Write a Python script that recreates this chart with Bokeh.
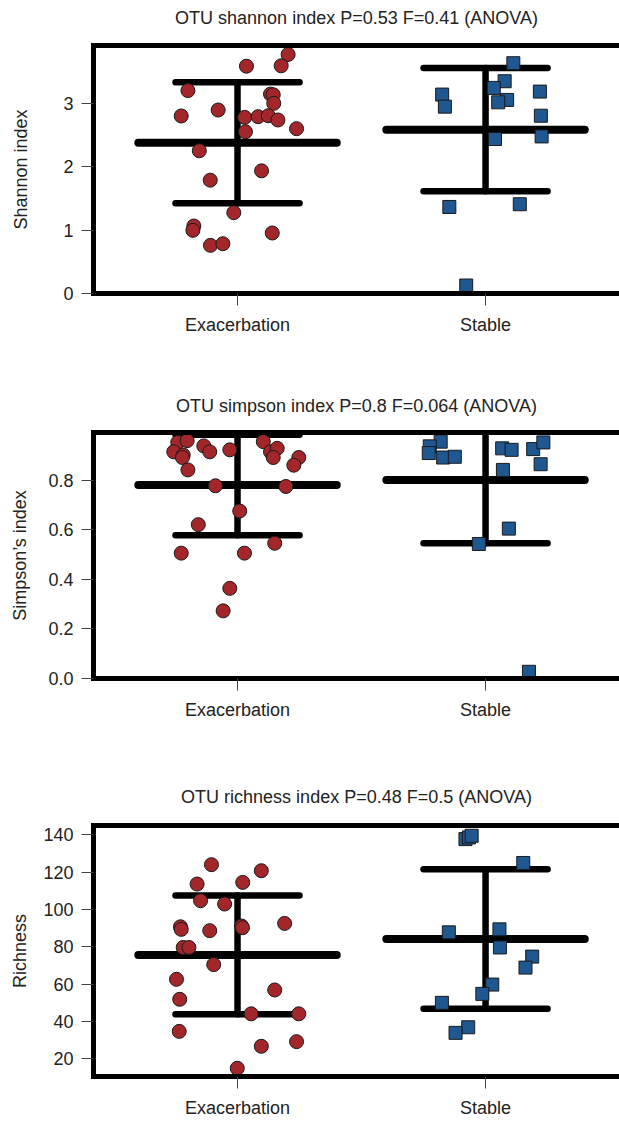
from bokeh.plotting import figure
from bokeh.models import Range1d, FixedTicker, LinearAxis
from bokeh.layouts import column
from bokeh.embed import file_html
from bokeh.resources import INLINE

# ---------------- data ----------------
categories = ["Exacerbation", "Stable"]
cat_pos = [1, 2]

titles = [
    "OTU shannon index P=0.53 F=0.41 (ANOVA)",
    "OTU simpson index P=0.8 F=0.064 (ANOVA)",
    "OTU richness index P=0.48 F=0.5 (ANOVA)",
]
ylabels = ["Shannon index", "Simpson\u2019s index", "Richness"]

# Shannon
shannon_exac = [3.765, 3.586, 3.58, 3.196, 3.14, 3.13, 2.995, 2.89, 2.796, 2.774, 2.785, 2.80,
                2.733, 2.596, 2.548, 2.248, 1.932, 1.785, 1.273, 1.063, 0.995, 0.953, 0.758, 0.784]
shannon_exac_jitter = [0.204, 0.176, 0.036, -0.200, 0.133, 0.144, 0.146, -0.078, -0.227, 0.029, 0.083, 0.124,
                       0.163, 0.238, 0.032, -0.154, 0.097, -0.110, -0.015, -0.176, -0.180, 0.140, -0.109, -0.059]
shannon_stab = [3.627, 3.343, 3.238, 3.133, 3.18, 3.049, 3.011, 2.943, 2.80, 2.433, 2.474, 1.363, 1.406, 0.126]
shannon_stab_jitter = [0.112, 0.077, 0.033, -0.175, 0.219, 0.087, 0.051, -0.164, 0.223, 0.038, 0.226, -0.146, 0.138, -0.078]
shannon_mean = [2.374, 2.58]
shannon_sd = [0.953, 0.97]
shannon_ticks = [0, 1, 2, 3]
shannon_tick_labels = ["0", "1", "2", "3"]
shannon_ylim = [0, 3.906]

# Simpson
simpson_exac = [0.953, 0.96, 0.915, 0.902, 0.892, 0.842, 0.939, 0.915, 0.923, 0.956, 0.915, 0.929,
                0.892, 0.892, 0.861, 0.778, 0.775, 0.676, 0.621, 0.546, 0.506, 0.506, 0.364, 0.273]
simpson_exac_jitter = [-0.241, -0.203, -0.257, -0.219, -0.222, -0.200, -0.136, -0.112, -0.031, 0.104, 0.133, 0.160,
                       0.144, 0.247, 0.227, -0.089, 0.195, 0.009, -0.158, 0.150, -0.227, 0.028, -0.031, -0.058]
simpson_stab = [0.956, 0.937, 0.91, 0.892, 0.895, 0.929, 0.923, 0.926, 0.953, 0.865, 0.842, 0.605, 0.543, 0.027]
simpson_stab_jitter = [-0.181, -0.225, -0.229, -0.171, -0.124, 0.067, 0.105, 0.192, 0.233, 0.222, 0.070, 0.094, -0.027, 0.175]
simpson_mean = [0.781, 0.801]
simpson_sd = [0.203, 0.255]
simpson_ticks = [0.0, 0.2, 0.4, 0.6, 0.8]
simpson_tick_labels = ["0.0", "0.2", "0.4", "0.6", "0.8"]
simpson_ylim = [0, 0.993]

# Richness
richness_exac = [124.0, 120.75, 113.6, 114.5, 104.7, 102.9, 90.7, 89.3, 88.6, 91.1, 90.2, 92.5,
                 79.6, 79.6, 70.4, 62.5, 51.8, 56.8, 44.0, 44.0, 34.6, 26.6, 29.1, 14.8]
richness_exac_jitter = [-0.105, 0.096, -0.163, 0.021, -0.149, -0.052, -0.230, -0.227, -0.112, 0.016, 0.020, 0.190,
                        -0.219, -0.196, -0.096, -0.246, -0.233, 0.150, 0.055, 0.247, -0.235, 0.096, 0.238, -0.001]
richness_stab = [137.7, 138.6, 139.5, 124.9, 87.7, 89.3, 79.6, 74.7, 68.8, 59.7, 54.7, 49.9, 36.8, 33.8]
richness_stab_jitter = [-0.081, -0.067, -0.056, 0.152, -0.148, 0.056, 0.058, 0.188, 0.161, 0.027, -0.013, -0.176, -0.070, -0.121]
richness_mean = [75.6, 84.1]
richness_sd = [31.85, 37.4]
richness_ticks = [20, 40, 60, 80, 100, 120, 140]
richness_tick_labels = ["20", "40", "60", "80", "100", "120", "140"]
richness_ylim = [10.4, 145.0]

# ---------------- style ----------------
FONT = "Liberation Sans"
FS = "18px"
TXT = "#222222"
RED = "#A3262A"
BLUE = "#1F5791"
EDGE = "#1a1a1a"
X_RANGE = (0.4194, 2.54)


def style_axis(ax):
    ax.axis_line_width = 5
    ax.axis_line_color = "black"
    ax.axis_line_cap = "square"
    ax.major_tick_out = 12
    ax.major_tick_in = 0
    ax.minor_tick_out = 0
    ax.minor_tick_in = 0
    ax.major_tick_line_color = "#444444"
    ax.major_tick_line_width = 1
    ax.major_label_text_font = FONT
    ax.major_label_text_font_size = FS
    ax.major_label_text_color = TXT


def make_panel(title, ylabel, exac, exac_j, stab, stab_j, means, sds, ticks, tick_labels, ylim,
               height, top, bottom, ylab_standoff, title_standoff, top_gap):
    p = figure(width=619, height=height, x_range=Range1d(*X_RANGE), y_range=Range1d(*ylim),
               output_backend="svg", toolbar_location=None,
               min_border_left=93, min_border_right=0, min_border_top=top, min_border_bottom=bottom)
    p.outline_line_color = None
    p.grid.visible = False
    p.background_fill_color = "white"
    p.border_fill_color = "white"

    p.title.text = title
    p.title.align = "center"
    p.title.text_font = FONT
    p.title.text_font_size = FS
    p.title.text_font_style = "normal"
    p.title.text_color = TXT
    p.title.standoff = title_standoff

    xax = p.below[0]
    yax = p.left[0]
    style_axis(xax)
    style_axis(yax)

    xax.ticker = FixedTicker(ticks=cat_pos)
    xax.major_label_overrides = {cp: c for cp, c in zip(cat_pos, categories)}
    xax.major_label_standoff = 9

    yax.ticker = FixedTicker(ticks=ticks)
    yax.major_label_overrides = {t: l for t, l in zip(ticks, tick_labels)}
    yax.major_label_standoff = 8
    yax.axis_label = ylabel
    yax.axis_label_text_font = FONT
    yax.axis_label_text_font_size = FS
    yax.axis_label_text_font_style = "normal"
    yax.axis_label_text_color = TXT
    yax.axis_label_standoff = ylab_standoff

    # top border of the box: an axis without ticks; a blank label reserves the gap under the title
    top_ax = LinearAxis(ticker=FixedTicker(ticks=[]), axis_line_width=5, axis_line_color="black",
                        axis_line_cap="square", major_tick_out=0, major_tick_in=0,
                        minor_tick_out=0, minor_tick_in=0, major_label_text_font_size="0px",
                        major_label_standoff=0, axis_label=" ", axis_label_text_font_size="1px",
                        axis_label_standoff=top_gap)
    p.add_layout(top_ax, "above")

    # mean and SD bars
    p.segment(x0=[c - 0.4 for c in cat_pos], x1=[c + 0.4 for c in cat_pos], y0=means, y1=means,
              line_color="black", line_width=8, line_cap="round")
    hi = [m + s for m, s in zip(means, sds)]
    lo = [m - s for m, s in zip(means, sds)]
    for yy in (hi, lo):
        p.segment(x0=[c - 0.25 for c in cat_pos], x1=[c + 0.25 for c in cat_pos], y0=yy, y1=yy,
                  line_color="black", line_width=6.5, line_cap="round")
    p.segment(x0=cat_pos, x1=cat_pos, y0=lo, y1=hi, line_color="black", line_width=6.5, line_cap="round")

    # points
    p.scatter(x=[cat_pos[0] + j for j in exac_j], y=exac, marker="circle", size=14,
              fill_color=RED, line_color=EDGE, line_width=1)
    p.scatter(x=[cat_pos[1] + j for j in stab_j], y=stab, marker="square", size=13,
              fill_color=BLUE, line_color=EDGE, line_width=1)
    return p


p1 = make_panel(titles[0], ylabels[0], shannon_exac, shannon_exac_jitter, shannon_stab, shannon_stab_jitter,
                shannon_mean, shannon_sd, shannon_ticks, shannon_tick_labels, shannon_ylim,
                390, 45, 97, 29, 11, 8)
p2 = make_panel(titles[1], ylabels[1], simpson_exac, simpson_exac_jitter, simpson_stab, simpson_stab_jitter,
                simpson_mean, simpson_sd, simpson_ticks, simpson_tick_labels, simpson_ylim,
                390, 42, 102, 15, 7, 9)
p3 = make_panel(titles[2], ylabels[2], richness_exac, richness_exac_jitter, richness_stab, richness_stab_jitter,
                richness_mean, richness_sd, richness_ticks, richness_tick_labels, richness_ylim,
                342, 45, 46, 10, 8, 11)

layout = column(p1, p2, p3, spacing=0)
open("out.html", "w").write(file_html(layout, INLINE, "OTU diversity"))
